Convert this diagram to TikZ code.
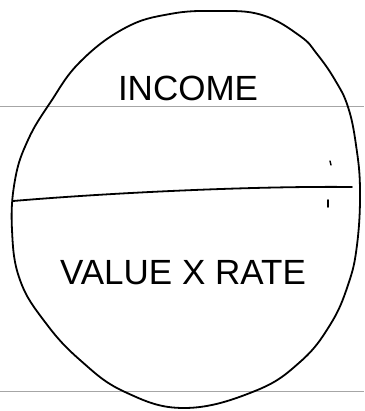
\documentclass[tikz,border=0pt]{standalone}
\usepackage{fontspec}
\setmainfont{Liberation Sans}
\usepackage{tikz}
\usetikzlibrary{positioning}

\begin{document}
\begin{tikzpicture}[x=1pt, y=-1pt, font=\fontsize{35}{40}\selectfont,
    pen/.style={line width=1.8pt, line join=round, line cap=round},
    ruled/.style={gray!70, line width=0.9pt}]
        \useasboundingbox (0,0) rectangle (364,411);
        % notebook rules
        \draw[ruled] (0,106) -- (364,106);
        \draw[ruled] (0,391) -- (364,391);
        % the circle
        \draw[pen] plot[smooth cycle, tension=0.7] coordinates {
          (217,11) (262,15) (300,36) (317,54) (335,80) (348,107)
          (356,145) (360,190) (357,245) (348,285) (330,325) (300,362)
          (255,391) (185,408) (125,392) (80,360) (45,322) (20,280)
          (12,230) (15,180) (28,140) (50,103) (80,62) (125,28) (170,14)};
        % divider
        \coordinate (l) at (13,201);
        \coordinate (r) at (352,187);
        \draw[pen] (l) .. controls (120,192) and (260,186) .. (r);
        \draw[pen, line width=1.4pt] (330,161) -- (331,165);
        \draw[pen, line width=1.6pt] (328,200) -- (328,207);
        % labels
        \node (income) at (188,88) {INCOME};
        \node (value) at (183,273) {VALUE X RATE};
      \end{tikzpicture}
\end{document}
